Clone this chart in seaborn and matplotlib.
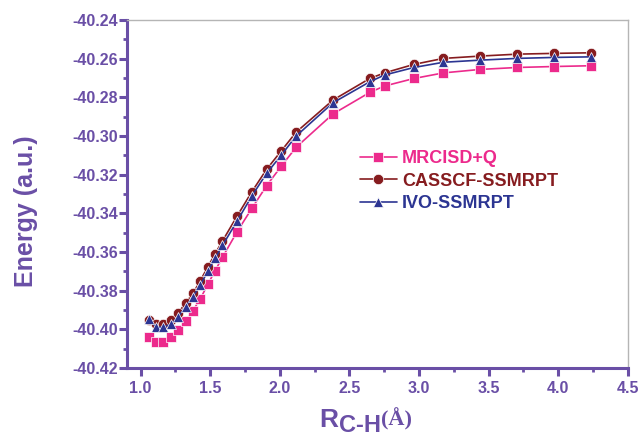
import matplotlib
matplotlib.use("Agg")
import matplotlib.pyplot as plt
import matplotlib.ticker as mticker
import numpy as np
import pandas as pd
import seaborn as sns

# C-H bond distance (Å)
r_ch = [1.058, 1.111, 1.164, 1.217, 1.270, 1.323, 1.376, 1.429, 1.482, 1.535,
        1.588, 1.693, 1.799, 1.905, 2.011, 2.117, 2.381, 2.646, 2.752, 2.963,
        3.175, 3.440, 3.704, 3.969, 4.233]

# Total energies (a.u.)
e_mrcisd = [-40.4038, -40.4067, -40.4067, -40.4041, -40.4003, -40.3957, -40.3903,
            -40.3842, -40.3768, -40.3697, -40.3627, -40.3495, -40.3374, -40.3257,
            -40.3155, -40.3058, -40.2886, -40.2774, -40.2741, -40.2702, -40.2673,
            -40.2655, -40.2645, -40.2640, -40.2636]
e_casscf = [-40.3950, -40.3972, -40.3974, -40.3952, -40.3914, -40.3865, -40.3814,
            -40.3748, -40.3678, -40.3609, -40.3543, -40.3414, -40.3288, -40.3172,
            -40.3076, -40.2980, -40.2814, -40.2702, -40.2673, -40.2629, -40.2598,
            -40.2586, -40.2576, -40.2572, -40.2569]
e_ivo = [-40.3947, -40.3989, -40.3989, -40.3974, -40.3935, -40.3883, -40.3831,
         -40.3771, -40.3700, -40.3633, -40.3566, -40.3440, -40.3310, -40.3193,
         -40.3098, -40.3000, -40.2828, -40.2719, -40.2684, -40.2645, -40.2618,
         -40.2607, -40.2598, -40.2593, -40.2590]

methods = ["MRCISD+Q", "CASSCF-SSMRPT", "IVO-SSMRPT"]
colors = ["#ec2a8c", "#861c1f", "#2c3592"]
marker_shapes = ["s", "o", "^"]
marker_sizes = [6.5, 7.5, 7.5]

sns.set_style("ticks")
plt.rcParams["font.family"] = ["Liberation Sans", "DejaVu Sans"]
plt.rcParams["font.weight"] = "bold"

PURPLE = "#6a4fa6"

df = pd.DataFrame({
    "R": r_ch * 3,
    "E": e_mrcisd + e_casscf + e_ivo,
    "method": np.repeat(methods, len(r_ch)),
})

fig = plt.figure(figsize=(6.4, 4.38), dpi=100)
ax = fig.add_axes([0.198, 0.160, 0.783, 0.794])

for m, c, mk, ms in zip(methods, colors, marker_shapes, marker_sizes):
    sns.lineplot(data=df[df["method"] == m], x="R", y="E", ax=ax, color=c,
                 marker=mk, markersize=ms, markeredgecolor="white",
                 markeredgewidth=0.5, linewidth=1.2, label=m,
                 estimator=None, sort=False)

ax.set_xlim(0.9, 4.5)
ax.set_ylim(-40.42, -40.24)
ax.xaxis.set_major_locator(mticker.MultipleLocator(0.5))
ax.xaxis.set_minor_locator(mticker.MultipleLocator(0.25))
ax.yaxis.set_major_locator(mticker.MultipleLocator(0.02))
ax.yaxis.set_minor_locator(mticker.MultipleLocator(0.01))
ax.xaxis.set_major_formatter(mticker.FormatStrFormatter("%.1f"))
ax.yaxis.set_major_formatter(mticker.FormatStrFormatter("%.2f"))

for side in ("left", "bottom"):
    ax.spines[side].set_color(PURPLE)
    ax.spines[side].set_linewidth(2.2)
for side in ("top", "right"):
    ax.spines[side].set_visible(True)
    ax.spines[side].set_color("#b5b5b5")
    ax.spines[side].set_linewidth(1.0)

ax.tick_params(axis="both", which="major", direction="out", length=5.5,
               width=2.2, color=PURPLE, labelcolor=PURPLE, labelsize=11.5)
ax.tick_params(axis="x", which="major", pad=4)
ax.tick_params(axis="y", which="major", pad=1)
ax.tick_params(axis="both", which="minor", direction="out", length=3,
               width=2.0, color=PURPLE)
ax.tick_params(top=False, right=False, which="both")
for lab in ax.get_xticklabels() + ax.get_yticklabels():
    lab.set_fontweight("bold")

ax.set_ylabel("Energy (a.u.)", color=PURPLE, fontsize=18, fontweight="bold")
ax.yaxis.set_label_coords(-0.178, 0.45)
ax.set_xlabel("")

# Axis title R_C-H(Å) built from pieces so the subscript stays full size
r_txt = ax.annotate("R", xy=(0.385, -0.170), xycoords="axes fraction",
                    ha="left", va="baseline", fontsize=19, fontweight="bold",
                    color=PURPLE, annotation_clip=False)
sub_txt = ax.annotate("C-H", xy=(1, 0), xycoords=r_txt,
                      xytext=(0, 0), textcoords="offset points",
                      ha="left", va="baseline", fontsize=17, fontweight="bold",
                      color=PURPLE, annotation_clip=False)
ax.annotate("(Å)", xy=(1, 0), xycoords=(sub_txt, r_txt),
            xytext=(0.5, 5), textcoords="offset points",
            ha="left", va="baseline", fontsize=16, fontweight="bold",
            family=["Liberation Serif", "DejaVu Serif"],
            color=PURPLE, annotation_clip=False)

leg = ax.legend(loc="center left", bbox_to_anchor=(0.465, 0.537),
                frameon=False, borderpad=0, borderaxespad=0,
                handlelength=2.05, handletextpad=0.3, labelspacing=0.3,
                prop={"weight": "bold", "size": 13})
for txt, c in zip(leg.get_texts(), colors):
    txt.set_color(c)

fig.savefig("out.png", dpi=100)
